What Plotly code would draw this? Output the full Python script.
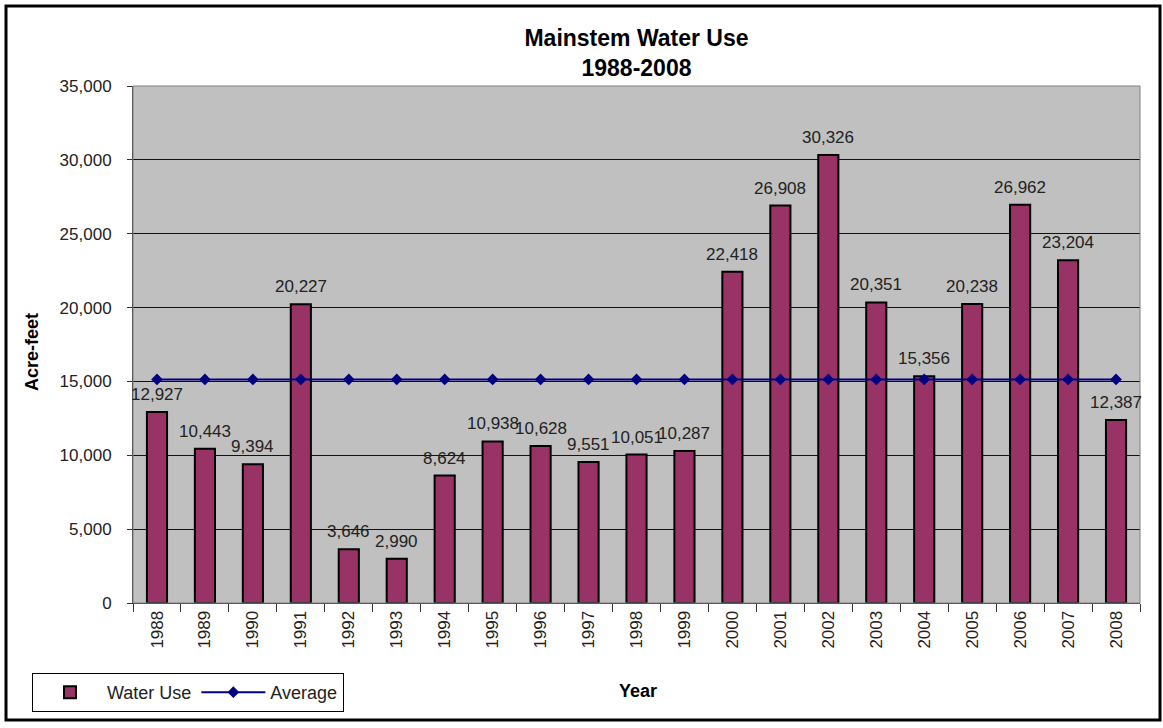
import plotly.graph_objects as go

years = ["1988", "1989", "1990", "1991", "1992", "1993", "1994", "1995", "1996", "1997", "1998",
         "1999", "2000", "2001", "2002", "2003", "2004", "2005", "2006", "2007", "2008"]
water_use = [12927, 10443, 9394, 20227, 3646, 2990, 8624, 10938, 10628, 9551, 10051,
             10287, 22418, 26908, 30326, 20351, 15356, 20238, 26962, 23204, 12387]
average = [15136, 15136, 15136, 15136, 15136, 15136, 15136, 15136, 15136, 15136, 15136,
           15136, 15136, 15136, 15136, 15136, 15136, 15136, 15136, 15136, 15136]
y_ticks = [0, 5000, 10000, 15000, 20000, 25000, 30000, 35000]

FONT = "Liberation Sans, Arial, sans-serif"

fig = go.Figure()
fig.add_trace(go.Bar(
    x=years, y=water_use, name="Water Use",
    marker=dict(color="#993366", line=dict(color="black", width=2)),
))
fig.add_trace(go.Scatter(
    x=years, y=average, name="Average", mode="lines+markers",
    line=dict(color="#000080", width=2),
    marker=dict(symbol="diamond", size=9, color="#000080"),
))

L, R, T, B = 133, 23, 86, 125
W, H = 1163, 728
pw, ph = W - L - R, H - T - B

def px(x):
    return (x - L) / pw

def py(y):
    return (H - B - y) / ph

annotations = [
    dict(text=f"{v:,}", x=i, y=v, xref="x", yref="y", yanchor="bottom", yshift=6,
         showarrow=False, font=dict(family=FONT, size=17, color="#222222"))
    for i, v in enumerate(water_use)
]
annotations += [
    dict(text="<b>Acre-feet</b>", x=px(32), y=py(352), xref="paper", yref="paper",
         xanchor="center", yanchor="middle",
         textangle=-90, showarrow=False, font=dict(family=FONT, size=18, color="black")),
    dict(text="<b>Year</b>", x=px(638), y=py(691), xref="paper", yref="paper",
         xanchor="center", yanchor="middle",
         showarrow=False, font=dict(family=FONT, size=18, color="black")),
]

fig.update_layout(
    width=W, height=H,
    margin=dict(l=L, r=R, t=T, b=B),
    paper_bgcolor="white", plot_bgcolor="#C0C0C0",
    bargap=0.58,
    font=dict(family=FONT, size=17, color="#222222"),
    title=dict(text="<b>Mainstem Water Use<br>1988-2008</b>", x=0.5, xref="paper",
               y=1 - 46 / H, yanchor="middle",
               font=dict(family=FONT, size=23, color="black")),
    showlegend=True,
    legend=dict(orientation="h", x=px(32), y=py(673), xanchor="left", yanchor="top",
                bordercolor="black", borderwidth=1, bgcolor="white",
                font=dict(family=FONT, size=18, color="#222222"),
                itemwidth=64),
    xaxis=dict(type="category", range=[-0.5, 20.5], showgrid=False, ticks="outside",
               tickson="boundaries", ticklen=8, tickcolor="#333333", tickangle=-90,
               showline=True, linecolor="#333333", linewidth=1,
               tickfont=dict(family=FONT, size=17, color="#222222")),
    yaxis=dict(range=[0, 35000], tickvals=y_ticks, tickformat=",d", showgrid=True,
               gridcolor="#111111", gridwidth=1, ticks="outside", ticklen=5,
               ticklabelstandoff=12,
               tickcolor="#333333", showline=True, linecolor="#333333", linewidth=1,
               zeroline=False, tickfont=dict(family=FONT, size=17, color="#222222")),
    annotations=annotations,
    shapes=[
        dict(type="rect", xref="paper", yref="paper", x0=px(6), x1=px(1160), y0=py(720), y1=py(6),
             line=dict(color="black", width=3), layer="below"),
        dict(type="rect", xref="paper", yref="paper", x0=0, x1=1, y0=0, y1=1,
             line=dict(color="#808080", width=1), layer="above"),
    ],
)

fig.write_html("out.html", config={"displayModeBar": False},
               post_script="document.body.style.margin='0';document.body.style.overflow='hidden';")
